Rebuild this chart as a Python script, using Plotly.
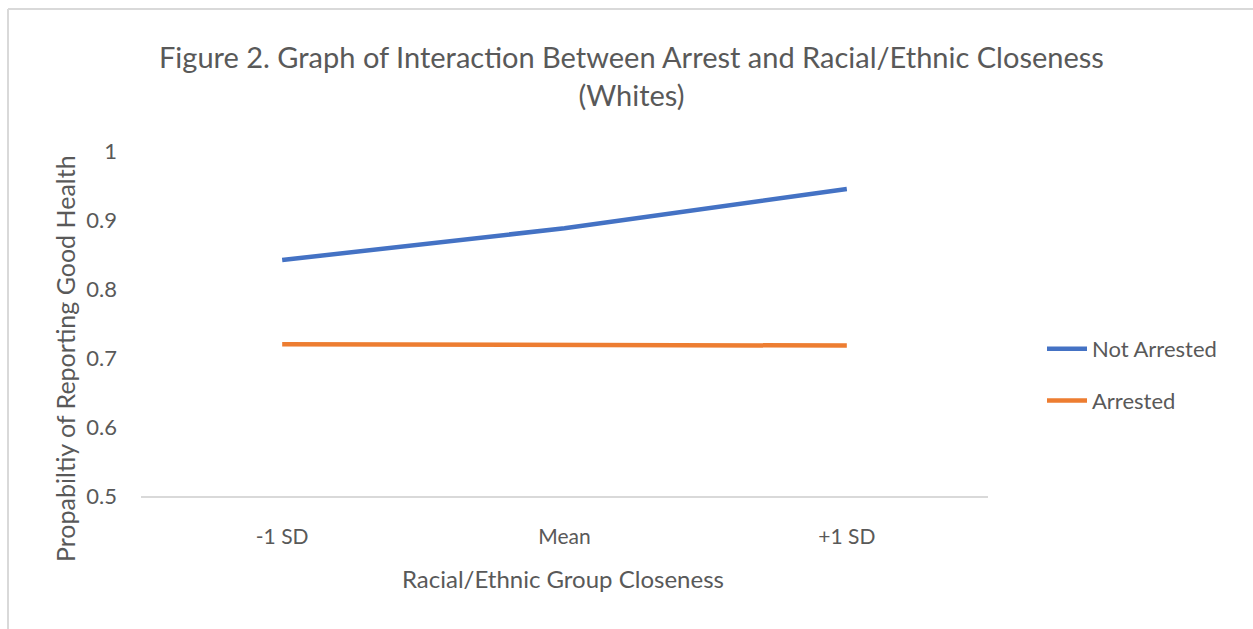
import plotly.graph_objects as go

categories = ["-1 SD", "Mean", "+1 SD"]
not_arrested = [0.842, 0.888, 0.945]
arrested = [0.720, 0.719, 0.718]
y_ticks = [0.5, 0.6, 0.7, 0.8, 0.9, 1]
y_tick_labels = ["0.5", "0.6", "0.7", "0.8", "0.9", "1"]

FONT = "Lato"
GRAY = "#595959"

fig = go.Figure()
fig.add_trace(go.Scatter(x=categories, y=not_arrested, mode="lines", name="Not Arrested",
                         legendgroup="a", line=dict(color="#4472C4", width=4.5)))
fig.add_trace(go.Scatter(x=categories, y=arrested, mode="lines", name="Arrested",
                         legendgroup="b", line=dict(color="#ED7D31", width=4.5)))

W, H = 1253, 629
L, R, T, B = 141, 988, 151, 496
pw, ph = R - L, B - T

def px(x):
    return (x - L) / pw

def py(y):
    return (B - y) / ph

fig.update_layout(
    width=W, height=H,
    margin=dict(l=L, r=W - R, t=T, b=H - B),
    paper_bgcolor="white", plot_bgcolor="white",
    font=dict(family=FONT, color=GRAY, size=20),
    showlegend=True,
    legend=dict(x=px(1042), y=py(375), xanchor="left", yanchor="middle",
                font=dict(size=22, color=GRAY), tracegroupgap=20, itemwidth=40,
                bgcolor="rgba(0,0,0,0)"),
    xaxis=dict(type="category", categoryarray=categories, showgrid=False, zeroline=False,
               showline=True, linecolor="#D9D9D9", linewidth=1.5, ticks="",
               tickfont=dict(size=21, color=GRAY), ticklabelstandoff=21,
               range=[-0.5, 2.5]),
    yaxis=dict(range=[0.5, 1.0], tickvals=y_ticks, ticktext=y_tick_labels, showgrid=False,
               zeroline=False, showline=False, ticks="",
               tickfont=dict(size=22, color=GRAY), ticklabelstandoff=23),
)

fig.add_annotation(text="Figure 2. Graph of Interaction Between Arrest and Racial/Ethnic Closeness<br>(Whites)",
                   x=px(631), y=py(75), xref="paper", yref="paper", showarrow=False,
                   font=dict(size=29, color=GRAY, family=FONT), align="center",
                   xanchor="center", yanchor="middle")
fig.add_annotation(text="Propabiltiy of Reporting Good Health", textangle=-90,
                   x=px(65), y=py(359), xref="paper", yref="paper", showarrow=False,
                   font=dict(size=25, color=GRAY, family=FONT), xanchor="center", yanchor="middle")
fig.add_annotation(text="Racial/Ethnic Group Closeness",
                   x=px(563), y=py(578), xref="paper", yref="paper", showarrow=False,
                   font=dict(size=24, color=GRAY, family=FONT), xanchor="center", yanchor="middle")

# chart border (top and left edges visible)
fig.add_shape(type="line", xref="paper", yref="paper", x0=px(8), x1=px(1260), y0=py(9), y1=py(9),
              line=dict(color="#D9D9D9", width=2))
fig.add_shape(type="line", xref="paper", yref="paper", x0=px(8), x1=px(8), y0=py(9), y1=py(640),
              line=dict(color="#D9D9D9", width=2))

fig.write_html("out.html")
